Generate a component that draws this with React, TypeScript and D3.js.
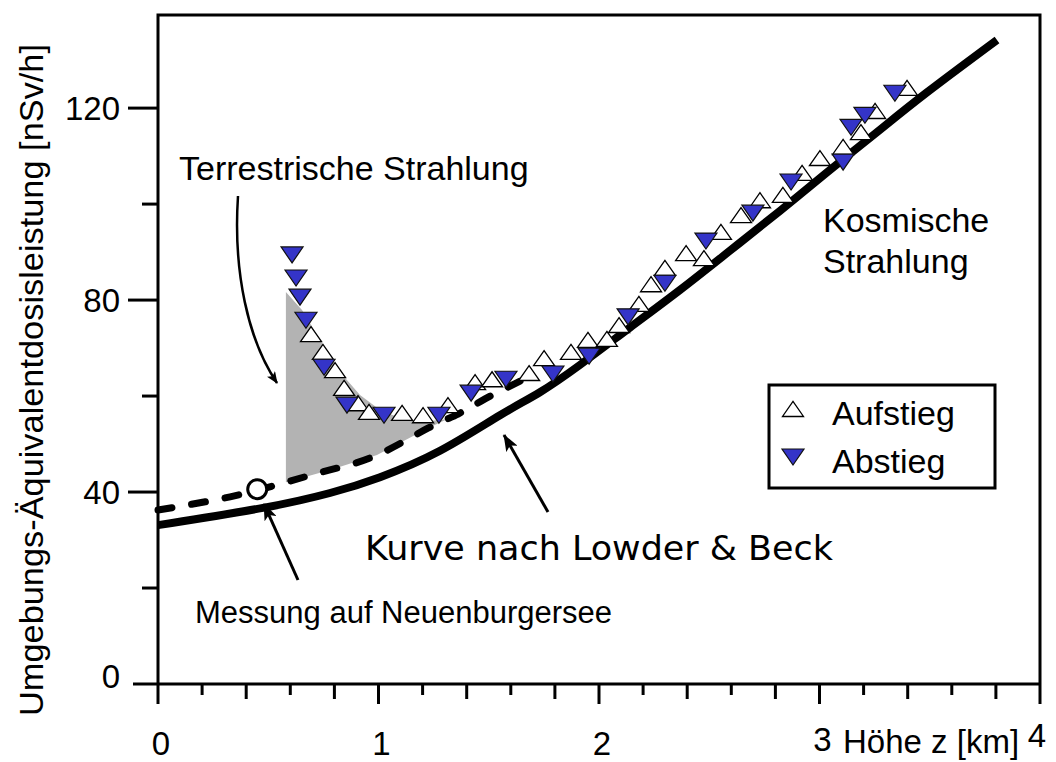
import React from "react";
import * as d3 from "d3";

// ---------- data ----------
// Aufstieg (ascent), open up-triangles: height [km], dose rate [nSv/h]
const aufstiegZ = [0.694, 0.748, 0.803, 0.844, 0.907, 0.957, 1.107, 1.202, 1.315, 1.438, 1.515, 1.683, 1.751, 1.873, 1.95, 2.036, 2.091, 2.181, 2.236, 2.299, 2.395, 2.476, 2.553, 2.644, 2.73, 2.834, 2.921, 3.002, 3.107, 3.188, 3.252, 3.397];
const aufstiegH = [72.9, 69.2, 65.4, 61.7, 58.5, 56.7, 56.5, 56.0, 58.1, 62.9, 63.5, 64.8, 67.9, 69.2, 71.7, 71.9, 74.8, 79.2, 83.3, 86.7, 89.8, 88.75, 94.2, 97.7, 100.8, 101.9, 106.5, 109.6, 111.9, 115.0, 119.4, 124.2];

// Abstieg (descent), filled down-triangles
const abstiegZ = [0.608, 0.626, 0.644, 0.671, 0.753, 0.857, 1.025, 1.274, 1.42, 1.578, 1.791, 1.955, 2.132, 2.299, 2.485, 2.698, 2.871, 3.107, 3.143, 3.206, 3.342];
const abstiegH = [89.4, 84.6, 80.6, 75.8, 66.0, 58.1, 56.0, 56.0, 60.6, 63.5, 64.6, 68.3, 76.5, 83.5, 92.3, 98.1, 104.6, 108.75, 116.0, 118.5, 123.1];

// Kurve nach Lowder & Beck (solid)
const lowderZ = [0, 0.476, 0.78, 1.007, 1.279, 1.551, 1.732, 1.914, 2.141, 2.367, 2.594, 2.821, 3.034, 3.261, 3.488, 3.805];
const lowderH = [33.1, 36.7, 39.8, 43.1, 48.6, 56.0, 60.8, 66.5, 74.3, 82.1, 90.3, 98.6, 106.6, 115.0, 123.3, 134.2];

// dashed curve (cosmic + lake measurement offset)
const dashedZ = [0, 0.327, 0.585, 0.78, 0.993, 1.224, 1.361, 1.483, 1.642];
const dashedH = [36.25, 39.0, 42.1, 44.6, 47.7, 53.3, 56.25, 59.4, 63.1];

// Messung auf Neuenburgersee
const messungZ = [0.45];
const messungH = [40.6];

// upper edge of the terrestrial (grey) area
const terrZ = [0.58, 0.653, 0.735, 0.825, 0.916, 1.007, 1.098, 1.188, 1.32];
const terrH = [81.7, 77.9, 71.7, 65.0, 60.2, 57.1, 55.4, 54.6, 55.2];

const xMajorTicks = [0, 1, 2, 3, 4];
const xTickLabels = ["0", "1", "2", "3", "4"];
const yMajorTicks = [0, 40, 80, 120];
const yTickLabels = ["0", "40", "80", "120"];
const yMinorTicks = [20, 60, 100];

const legendLabels = ["Aufstieg", "Abstieg"];

// ---------- layout ----------
const W = 1056;
const H = 762;
const left = 158;
const right = 1040;
const top = 15;
const bottom = 684;
const BLUE = "#3434c8";
const FONT = "'Liberation Sans', Arial, Helvetica, sans-serif";

const x = d3.scaleLinear().domain([0, 4]).range([left, right]);
const y = d3.scaleLinear().domain([0, 139.4]).range([bottom, top]);

const upTri = "M-10.5,7.5 L10.5,7.5 L0,-7.5 Z";
const downTri = "M-11,-8 L11,-8 L0,8 Z";

function interp(xs: number[], ys: number[], v: number) {
  for (let i = 0; i < xs.length - 1; i++) {
    if (v >= xs[i] && v <= xs[i + 1]) {
      const t = (v - xs[i]) / (xs[i + 1] - xs[i]);
      return ys[i] + t * (ys[i + 1] - ys[i]);
    }
  }
  return ys[ys.length - 1];
}

export default function App() {
  const lineGen = d3
    .line<[number, number]>()
    .x((d) => x(d[0]))
    .y((d) => y(d[1]))
    .curve(d3.curveNatural);

  const solidPts = lowderZ.map((z, i) => [z, lowderH[i]] as [number, number]);
  const dashedPts = dashedZ.map((z, i) => [z, dashedH[i]] as [number, number]);

  // grey area: upper edge from terrZ/terrH, lower edge along the dashed curve
  const z0 = terrZ[0];
  const z1 = terrZ[terrZ.length - 1];
  const lowerZs = [z0, ...dashedZ.filter((z) => z > z0 && z < z1), z1];
  const lowerPts = lowerZs.map((z) => [z, interp(dashedZ, dashedH, z)] as [number, number]);
  const upperPts = terrZ.map((z, i) => [z, terrH[i]] as [number, number]);
  const poly = [...upperPts, ...lowerPts.slice().reverse()];
  const areaPath =
    "M" + poly.map((p) => `${x(p[0]).toFixed(1)},${y(p[1]).toFixed(1)}`).join("L") + "Z";

  const xMinor = d3.range(0, 4.001, 0.2).filter((v) => Math.abs(v - Math.round(v)) > 1e-6);

  const xLabelBaseline = [755, 755, 755, 751, 747];

  return (
    <svg
      width={W}
      height={H}
      style={{ position: "absolute", left: 0, top: 0, background: "#fff" }}
      fontFamily={FONT}
    >
      <defs>
        <marker id="ah" viewBox="0 0 17 13" refX="16" refY="6.5" markerWidth="17" markerHeight="13" markerUnits="userSpaceOnUse" orient="auto">
          <path d="M0,0 L17,6.5 L0,13 L4,6.5 Z" fill="#000" />
        </marker>
        <marker id="ahs" viewBox="0 0 12 10" refX="11" refY="5" markerWidth="12" markerHeight="10" markerUnits="userSpaceOnUse" orient="auto">
          <path d="M0,0 L12,5 L0,10 L3,5 Z" fill="#000" />
        </marker>
      </defs>

      {/* grey terrestrial area */}
      <path d={areaPath} fill="#b3b3b3" stroke="none" />

      {/* dashed curve */}
      <path
        d={lineGen(dashedPts) || ""}
        fill="none"
        stroke="#000"
        strokeWidth={7}
        strokeDasharray="14 20"
        strokeLinecap="round"
      />
      {/* Lowder & Beck curve */}
      <path d={lineGen(solidPts) || ""} fill="none" stroke="#000" strokeWidth={8} strokeLinejoin="round" />

      {/* Messung point */}
      {messungZ.map((z, i) => (
        <circle key={i} cx={x(z)} cy={y(messungH[i])} r={9.5} fill="#fff" stroke="#000" strokeWidth={3} />
      ))}

      {/* data markers */}
      {aufstiegZ.map((z, i) => (
        <path key={"a" + i} d={upTri} transform={`translate(${x(z)},${y(aufstiegH[i])})`} fill="#fff" stroke="#000" strokeWidth={1.3} />
      ))}
      {abstiegZ.map((z, i) => (
        <path key={"b" + i} d={downTri} transform={`translate(${x(z)},${y(abstiegH[i])})`} fill={BLUE} stroke="#111" strokeWidth={1.2} />
      ))}

      {/* frame */}
      <path d={`M${left},${bottom} L${left},${top} L${right},${top} L${right},${bottom}`} fill="none" stroke="#000" strokeWidth={3} />
      <line x1={133} x2={right} y1={bottom} y2={bottom} stroke="#000" strokeWidth={3} />

      {/* y ticks */}
      {yMajorTicks.map((v, i) => (
        <g key={"ym" + i}>
          {v !== 0 && <line x1={128} x2={left} y1={y(v)} y2={y(v)} stroke="#000" strokeWidth={3} />}
          <text x={120} y={Math.min(y(v), 676) + 12} textAnchor="end" fontSize={33}>
            {yTickLabels[i]}
          </text>
        </g>
      ))}
      {yMinorTicks.map((v, i) => (
        <line key={"yn" + i} x1={142} x2={left} y1={y(v)} y2={y(v)} stroke="#000" strokeWidth={3} />
      ))}

      {/* x ticks */}
      {xMajorTicks.map((v, i) => (
        <g key={"xm" + i}>
          <line x1={x(v)} x2={x(v)} y1={bottom} y2={bottom + 20} stroke="#000" strokeWidth={3} />
          <text x={x(v) + (i === 4 ? -3 : 3)} y={xLabelBaseline[i]} textAnchor="middle" fontSize={33}>
            {xTickLabels[i]}
          </text>
        </g>
      ))}
      {xMinor.map((v, i) => {
        const frac = Math.round((v - Math.floor(v)) * 10);
        const len = frac === 4 || frac === 8 ? 15 : 11;
        return <line key={"xn" + i} x1={x(v)} x2={x(v)} y1={bottom} y2={bottom + len} stroke="#000" strokeWidth={3} />;
      })}

      {/* axis titles */}
      <text x={843} y={753} fontSize={33}>
        Höhe z [km]
      </text>
      <text
        transform="translate(43,380) rotate(-90)"
        textAnchor="middle"
        fontSize={34}
        textLength={672}
        lengthAdjust="spacingAndGlyphs"
      >
        Umgebungs-Äquivalentdosisleistung [nSv/h]
      </text>

      {/* annotations */}
      <text x={179} y={180} fontSize={34}>
        Terrestrische Strahlung
      </text>
      <path d="M238,196 C233,272 248,340 277,383" fill="none" stroke="#000" strokeWidth={2.5} markerEnd="url(#ahs)" />

      <text x={823} y={232} fontSize={34}>
        Kosmische
      </text>
      <text x={823} y={273} fontSize={34}>
        Strahlung
      </text>

      <text x={365} y={560} fontSize={33} fontFamily="'DejaVu Sans', Verdana, sans-serif" textLength={468} lengthAdjust="spacingAndGlyphs">
        Kurve nach Lowder &amp; Beck
      </text>
      <line x1={548} y1={512} x2={504} y2={435} stroke="#000" strokeWidth={3} markerEnd="url(#ah)" />

      <text x={195} y={623} fontSize={31}>
        Messung auf Neuenburgersee
      </text>
      <line x1={298} y1={580} x2={264} y2={504} stroke="#000" strokeWidth={3} markerEnd="url(#ah)" />

      {/* legend */}
      <rect x={769} y={385} width={226} height={103} fill="#fff" stroke="#000" strokeWidth={3} />
      <path d={upTri} transform="translate(793,409)" fill="#fff" stroke="#000" strokeWidth={1.3} />
      <text x={832} y={425} fontSize={34}>
        {legendLabels[0]}
      </text>
      <path d={downTri} transform="translate(793,457)" fill={BLUE} stroke="#111" strokeWidth={1.2} />
      <text x={832} y={473} fontSize={34}>
        {legendLabels[1]}
      </text>
    </svg>
  );
}
